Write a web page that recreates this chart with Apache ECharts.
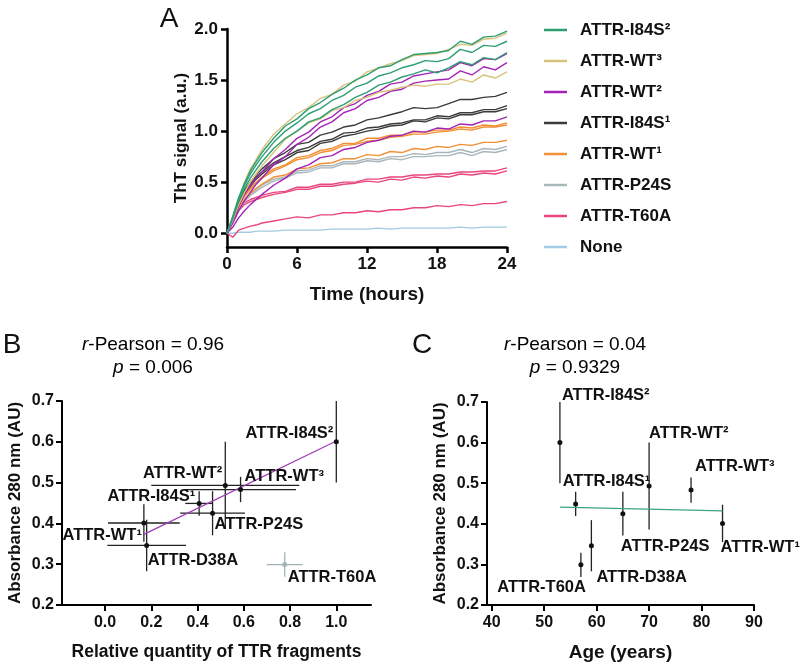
<!DOCTYPE html>
<html><head><meta charset="utf-8">
<script src="https://cdn.jsdelivr.net/npm/echarts@6/dist/echarts.min.js"></script>
<style>html,body{margin:0;padding:0;background:#fff}#c{width:800px;height:665px}</style>
</head><body><div id="c"></div><script>
// ---------- Panel A: ThT kinetics ----------
const hours = [0,0.5,1,1.5,2,2.5,3,4,5,6,7,8,9,10,11,12,13,14,15,16,17,18,19,20,21,22,23,24];
const i84s2_a = [0,0.17,0.35,0.49,0.61,0.7,0.79,0.93,1.05,1.12,1.22,1.28,1.36,1.42,1.5,1.55,1.62,1.64,1.7,1.75,1.76,1.77,1.79,1.88,1.85,1.92,1.93,1.98];
const i84s2_b = [0,0.16,0.33,0.47,0.58,0.67,0.75,0.89,1.0,1.08,1.17,1.22,1.3,1.35,1.43,1.47,1.54,1.57,1.62,1.65,1.69,1.68,1.71,1.8,1.77,1.84,1.83,1.88];
const i84s2_c = [0,0.15,0.31,0.44,0.54,0.62,0.7,0.83,0.93,1.0,1.09,1.13,1.21,1.26,1.33,1.38,1.45,1.48,1.53,1.56,1.6,1.57,1.62,1.68,1.65,1.72,1.7,1.77];
const wt3_a = [0,0.15,0.33,0.5,0.63,0.72,0.82,0.97,1.07,1.17,1.23,1.32,1.36,1.45,1.49,1.58,1.62,1.66,1.69,1.74,1.75,1.76,1.8,1.85,1.84,1.9,1.91,1.96];
const wt3_b = [0,0.13,0.28,0.4,0.5,0.58,0.66,0.79,0.92,1.0,1.08,1.12,1.2,1.23,1.3,1.33,1.38,1.4,1.43,1.45,1.44,1.46,1.46,1.51,1.48,1.55,1.52,1.58];
const wt2_a = [0,0.12,0.27,0.38,0.47,0.54,0.6,0.73,0.82,0.93,0.99,1.09,1.14,1.23,1.27,1.35,1.39,1.46,1.48,1.54,1.56,1.58,1.6,1.67,1.64,1.71,1.7,1.76];
const wt2_b = [0,0.1,0.22,0.32,0.4,0.48,0.54,0.67,0.75,0.87,0.94,1.04,1.09,1.18,1.22,1.3,1.33,1.39,1.41,1.47,1.49,1.5,1.51,1.59,1.55,1.63,1.6,1.67];
const wt2_c = [0,0.06,0.15,0.22,0.28,0.33,0.38,0.47,0.54,0.63,0.67,0.74,0.76,0.82,0.84,0.89,0.91,0.95,0.96,1.0,0.99,1.03,1.02,1.07,1.06,1.1,1.1,1.14];
const i84s1_a = [0,0.14,0.3,0.42,0.5,0.57,0.63,0.73,0.79,0.87,0.89,0.96,0.99,1.04,1.06,1.11,1.13,1.16,1.19,1.23,1.22,1.23,1.27,1.31,1.31,1.33,1.34,1.38];
const i84s1_b = [0,0.13,0.29,0.41,0.48,0.55,0.6,0.69,0.75,0.81,0.84,0.9,0.92,0.98,0.99,1.03,1.04,1.07,1.08,1.11,1.11,1.15,1.14,1.18,1.18,1.21,1.21,1.25];
const i84s1_c = [0,0.12,0.27,0.39,0.46,0.53,0.58,0.67,0.72,0.79,0.81,0.88,0.9,0.95,0.97,1.0,1.02,1.05,1.06,1.1,1.09,1.13,1.12,1.16,1.16,1.19,1.19,1.22];
const wt1_a = [0,0.12,0.27,0.37,0.44,0.5,0.55,0.63,0.67,0.74,0.76,0.81,0.83,0.88,0.88,0.93,0.93,0.96,0.96,0.99,0.99,1.01,1.01,1.04,1.03,1.06,1.05,1.08];
const wt1_b = [0,0.12,0.26,0.36,0.43,0.49,0.54,0.61,0.66,0.72,0.74,0.79,0.81,0.86,0.87,0.9,0.91,0.94,0.95,0.97,0.97,0.99,1.0,1.02,1.01,1.04,1.04,1.06];
const wt1_c = [0,0.11,0.24,0.33,0.39,0.44,0.48,0.55,0.57,0.63,0.64,0.68,0.69,0.73,0.73,0.77,0.76,0.8,0.79,0.83,0.82,0.85,0.84,0.87,0.86,0.89,0.89,0.91];
const p24s_a = [0,0.11,0.23,0.32,0.38,0.43,0.47,0.53,0.55,0.61,0.62,0.66,0.66,0.7,0.7,0.73,0.72,0.75,0.75,0.78,0.77,0.79,0.79,0.82,0.79,0.83,0.82,0.85];
const p24s_b = [0,0.1,0.22,0.31,0.37,0.41,0.45,0.51,0.54,0.59,0.6,0.64,0.64,0.68,0.68,0.71,0.7,0.73,0.72,0.75,0.75,0.76,0.76,0.79,0.76,0.8,0.79,0.82];
const t60a_a = [0,0.12,0.24,0.3,0.33,0.35,0.37,0.4,0.41,0.45,0.45,0.48,0.48,0.5,0.5,0.53,0.53,0.55,0.55,0.57,0.57,0.58,0.58,0.6,0.6,0.61,0.61,0.64];
const t60a_b = [0,0.11,0.22,0.28,0.31,0.33,0.35,0.38,0.4,0.43,0.43,0.46,0.46,0.48,0.49,0.51,0.5,0.53,0.52,0.55,0.54,0.56,0.55,0.58,0.57,0.59,0.58,0.61];
const t60a_c = [0,-0.04,0.03,0.05,0.07,0.08,0.1,0.12,0.14,0.16,0.15,0.18,0.18,0.2,0.2,0.22,0.21,0.23,0.23,0.25,0.25,0.27,0.26,0.28,0.27,0.29,0.29,0.31];
const none_a = [0,0,0.01,0.01,0.01,0.02,0.02,0.02,0.03,0.03,0.03,0.03,0.04,0.04,0.04,0.04,0.05,0.04,0.05,0.05,0.05,0.05,0.05,0.06,0.05,0.06,0.06,0.06];
const yTicksA = [0,0.5,1,1.5,2];

const groupsA = [
  {name:'None', runs:[none_a]},
  {name:'ATTR-T60A', runs:[t60a_a,t60a_b,t60a_c]},
  {name:'ATTR-P24S', runs:[p24s_a,p24s_b]},
  {name:'ATTR-WT¹', runs:[wt1_a,wt1_b,wt1_c]},
  {name:'ATTR-I84S¹', runs:[i84s1_a,i84s1_b,i84s1_c]},
  {name:'ATTR-WT²', runs:[wt2_a,wt2_b,wt2_c]},
  {name:'ATTR-WT³', runs:[wt3_a,wt3_b]},
  {name:'ATTR-I84S²', runs:[i84s2_a,i84s2_b,i84s2_c]}
];
const legendOrder = ['ATTR-I84S²','ATTR-WT³','ATTR-WT²','ATTR-I84S¹','ATTR-WT¹','ATTR-P24S','ATTR-T60A','None'];

// ---------- Panels B & C ----------
const samples   = ['ATTR-I84S²','ATTR-WT²','ATTR-WT³','ATTR-I84S¹','ATTR-P24S','ATTR-WT¹','ATTR-D38A','ATTR-T60A'];
const relQty    = [1.0, 0.52, 0.586, 0.407, 0.465, 0.168, 0.18, 0.777];
const relQtyErr = [0, 0.32, 0.24, 0.06, 0.14, 0.155, 0.17, 0.078];
const absorb    = [0.6, 0.493, 0.483, 0.449, 0.425, 0.401, 0.346, 0.299];
const absorbErr = [0.1, 0.107, 0.031, 0.03, 0.054, 0.046, 0.063, 0.03];
const ageYears  = [53, 70, 78, 56, 65, 84, 59, 57];
const excludedB = ['ATTR-T60A'];
const fitB_x = [0.168, 1.0], fitB_y = [0.373, 0.602];
const fitC_x = [53, 84],     fitC_y = [0.441, 0.432];
const xTicksB = [0, 0.2, 0.4, 0.6, 0.8, 1.0];
const xTicksC = [40, 50, 60, 70, 80, 90];
const statsB = ['0.96', '0.006'];
const statsC = ['0.04', '0.9329'];

// ---------- styles ----------
const FONT = '"Liberation Sans", Arial, sans-serif';
const INK = '#111';
const colorsA = {
  'ATTR-I84S²':'#2e9e72','ATTR-WT³':'#d8c37d','ATTR-WT²':'#a323b6','ATTR-I84S¹':'#3b3b3b',
  'ATTR-WT¹':'#f29035','ATTR-P24S':'#a9b6ba','ATTR-T60A':'#e9467c','None':'#a3cbe4'
};
const labelB = {
  'ATTR-I84S²':{align:'right',dx:-3,dy:-8}, 'ATTR-WT²':{align:'right',dx:-3,dy:-12},
  'ATTR-WT³':{align:'left',dx:4,dy:-13}, 'ATTR-I84S¹':{align:'right',dx:-4,dy:-7},
  'ATTR-P24S':{align:'left',dx:2,dy:11}, 'ATTR-WT¹':{align:'right',dx:-2,dy:12},
  'ATTR-D38A':{align:'left',dx:1,dy:15}, 'ATTR-T60A':{align:'left',dx:3,dy:13}
};
const labelC = {
  'ATTR-I84S²':{align:'left',dx:2,dy:-47}, 'ATTR-WT²':{align:'left',dx:0,dy:-53},
  'ATTR-WT³':{align:'left',dx:4,dy:-24}, 'ATTR-I84S¹':{align:'left',dx:-13,dy:-22},
  'ATTR-P24S':{align:'left',dx:-2,dy:33}, 'ATTR-WT¹':{align:'left',dx:-2,dy:24},
  'ATTR-D38A':{align:'left',dx:5,dy:32}, 'ATTR-T60A':{align:'right',dx:5,dy:23}
};

function axisStyle(w){
  return {
    axisLine:{show:true,onZero:false,lineStyle:{color:'#000',width:w}},
    axisTick:{show:true,length:6,lineStyle:{color:'#000',width:w}},
    splitLine:{show:false}
  };
}
const tickFont = {fontFamily:FONT,fontWeight:'bold',color:INK};

const series = [];
groupsA.forEach(g=>{
  g.runs.forEach(run=>{
    series.push({
      type:'line', name:g.name, xAxisIndex:0, yAxisIndex:0,
      data: hours.map((t,i)=>[t, run[i]]),
      symbol:'none', showSymbol:false, color:colorsA[g.name],
      itemStyle:{color:colorsA[g.name]},
      lineStyle:{width:1.4,color:colorsA[g.name]}, animation:false, silent:true
    });
  });
});

function errSeries(axisIdx, xs, xe, keep, color, withX){
  const data = [];
  samples.forEach((n,i)=>{ if(keep(n)) data.push([xs[i], absorb[i], withX ? xe[i] : 0, absorbErr[i]]); });
  return {
    type:'custom', xAxisIndex:axisIdx, yAxisIndex:axisIdx, silent:true, animation:false,
    encode:{x:0,y:1}, data:data,
    renderItem:(params, api)=>{
      const x=api.value(0), y=api.value(1), ex=api.value(2), ey=api.value(3);
      const st = {stroke:color, lineWidth:1.3};
      const kids = [];
      const v1=api.coord([x,y-ey]), v2=api.coord([x,y+ey]);
      kids.push({type:'line',shape:{x1:v1[0],y1:v1[1],x2:v2[0],y2:v2[1]},style:st});
      if(ex>0){
        const h1=api.coord([x-ex,y]), h2=api.coord([x+ex,y]);
        kids.push({type:'line',shape:{x1:h1[0],y1:h1[1],x2:h2[0],y2:h2[1]},style:st});
      }
      return {type:'group',children:kids};
    }
  };
}
function pointSeries(axisIdx, xs, labels, colorFn){
  return {
    type:'scatter', xAxisIndex:axisIdx, yAxisIndex:axisIdx, symbol:'circle', symbolSize:5,
    animation:false, silent:true, z:5, itemStyle:{opacity:1},
    data: samples.map((n,i)=>({
      name:n, value:[xs[i], absorb[i]],
      itemStyle:{color:colorFn(n), opacity:1},
      label:{show:true, position:'inside', formatter:n, align:labels[n].align, verticalAlign:'middle',
             offset:[labels[n].dx, labels[n].dy], fontFamily:FONT, fontWeight:'bold', fontSize:16.5,
             color:INK, opacity:1, textBorderWidth:0, textBorderColor:'transparent'}
    }))
  };
}

series.push(errSeries(1, relQty, relQtyErr, n=>!excludedB.includes(n), '#222', true));
series.push(errSeries(1, relQty, relQtyErr, n=>excludedB.includes(n), '#a3b3b3', true));
series.push({type:'line', xAxisIndex:1, yAxisIndex:1, data:fitB_x.map((x,i)=>[x,fitB_y[i]]),
  symbol:'none', lineStyle:{color:'#a23cb8',width:1.3}, animation:false, silent:true, z:3});
series.push(pointSeries(1, relQty, labelB, n=>excludedB.includes(n)?'#a3b3b3':'#111'));

series.push(errSeries(2, ageYears, null, n=>true, '#222', false));
series.push({type:'line', xAxisIndex:2, yAxisIndex:2, data:fitC_x.map((x,i)=>[x,fitC_y[i]]),
  symbol:'none', lineStyle:{color:'#3aa57f',width:1.3}, animation:false, silent:true, z:3});
series.push(pointSeries(2, ageYears, labelC, n=>'#111'));

const rich = {
  n:{fontFamily:FONT,fontSize:19,color:INK},
  i:{fontFamily:FONT,fontSize:19,color:INK,fontStyle:'italic'}
};
function statText(x, stats){
  return [
    {type:'text', x:x, y:345, style:{text:'{i|r}{n|-Pearson = '+stats[0]+'}', rich:rich, align:'center', verticalAlign:'middle'}},
    {type:'text', x:x, y:368, style:{text:'{i|p}{n| = '+stats[1]+'}', rich:rich, align:'center', verticalAlign:'middle'}}
  ];
}
const panelLetter = (t,x,y)=>({type:'text', x:x, y:y, style:{text:t, fontFamily:FONT, fontSize:28, fill:INK, align:'center', verticalAlign:'middle'}});

const option = {
  backgroundColor:'#fff',
  animation:false,
  grid:[
    {left:227, top:29, width:280, height:218},
    {left:62, top:401, width:309, height:204},
    {left:487, top:402, width:267, height:203}
  ],
  legend:{
    data:legendOrder, orient:'vertical', left:539, top:16, icon:'rect',
    itemWidth:23, itemHeight:2.5, itemGap:13, selectedMode:false,
    textStyle:{fontFamily:FONT, fontWeight:'bold', fontSize:17, color:INK, lineHeight:18, padding:[0,0,0,8]}
  },
  xAxis:[
    Object.assign({gridIndex:0, type:'value', min:0, max:24, interval:6,
      axisLabel:Object.assign({fontSize:17, margin:9}, tickFont),
      name:'Time (hours)', nameLocation:'middle', nameGap:38,
      nameTextStyle:{fontFamily:FONT,fontWeight:'bold',fontSize:19,color:INK}}, axisStyle(2.5)),
    Object.assign({gridIndex:1, type:'value', min:-0.186, max:1.15,
      axisLabel:Object.assign({fontSize:16, margin:10, customValues:xTicksB, formatter:v=>v.toFixed(1)}, tickFont),
      name:'Relative quantity of TTR fragments', nameLocation:'middle', nameGap:38,
      nameTextStyle:{fontFamily:FONT,fontWeight:'bold',fontSize:17.5,color:INK}}, axisStyle(2)),
    Object.assign({gridIndex:2, type:'value', min:39.1, max:90,
      axisLabel:Object.assign({fontSize:16, margin:10, customValues:xTicksC}, tickFont),
      name:'Age (years)', nameLocation:'middle', nameGap:38,
      nameTextStyle:{fontFamily:FONT,fontWeight:'bold',fontSize:19,color:INK}}, axisStyle(2))
  ],
  yAxis:[
    Object.assign({gridIndex:0, type:'value', min:-0.135, max:2.0,
      axisLabel:Object.assign({fontSize:17, margin:9, customValues:yTicksA, formatter:v=>v.toFixed(1)}, tickFont),
      name:'ThT signal (a.u.)', nameLocation:'middle', nameGap:37, nameRotate:90,
      nameTextStyle:{fontFamily:FONT,fontWeight:'bold',fontSize:17,color:INK}}, axisStyle(2.5)),
    Object.assign({gridIndex:1, type:'value', min:0.2, max:0.7, interval:0.1,
      axisLabel:Object.assign({fontSize:16, margin:8, formatter:v=>v.toFixed(1)}, tickFont),
      name:'Absorbance 280 nm (AU)', nameLocation:'middle', nameGap:38, nameRotate:90,
      nameTextStyle:{fontFamily:FONT,fontWeight:'bold',fontSize:17,color:INK}}, axisStyle(2)),
    Object.assign({gridIndex:2, type:'value', min:0.2, max:0.7, interval:0.1,
      axisLabel:Object.assign({fontSize:16, margin:8, formatter:v=>v.toFixed(1)}, tickFont),
      name:'Absorbance 280 nm (AU)', nameLocation:'middle', nameGap:38, nameRotate:90,
      nameTextStyle:{fontFamily:FONT,fontWeight:'bold',fontSize:17,color:INK}}, axisStyle(2))
  ],
  graphic:[
    panelLetter('A',169,19), panelLetter('B',12,345), panelLetter('C',422,345)
  ].concat(statText(153, statsB), statText(575, statsC)),
  series:series
};
option.yAxis[0].axisTick.customValues = yTicksA;
option.xAxis[1].axisTick.customValues = xTicksB;
option.xAxis[2].axisTick.customValues = xTicksC;

const chart = echarts.init(document.getElementById('c'), null, {renderer:'canvas'});
chart.setOption(option);
</script></body></html>
